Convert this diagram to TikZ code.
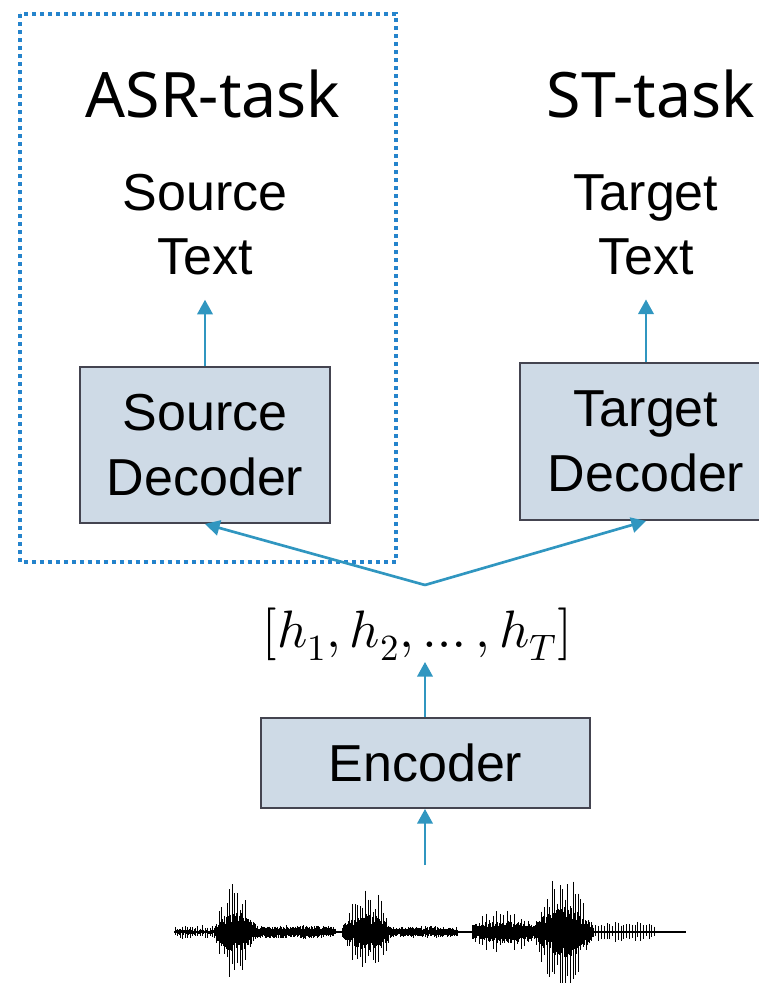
\documentclass[tikz,border=0pt]{standalone}
\usepackage{fontspec}
\usepackage{unicode-math}
\setmainfont{Liberation Sans}
\setmathfont{Latin Modern Math}
\newfontfamily\taskfont{Noto Sans}
\usetikzlibrary{arrows.meta, positioning}

\definecolor{boxfill}{RGB}{206, 218, 230}
\definecolor{boxline}{RGB}{68, 68, 80}
\definecolor{flowline}{RGB}{48, 150, 192}
\definecolor{groupline}{RGB}{37, 132, 204}

\tikzset{
    block/.style={draw=boxline, line width=1.4pt, fill=boxfill, align=center,
        inner sep=0pt, font=\fontsize{39}{49}\selectfont},
    textlbl/.style={align=center, inner sep=18pt, font=\fontsize{39}{48}\selectfont},
    tasklbl/.style={inner sep=0pt, font=\taskfont\fontsize{47}{50}\selectfont},
    flow/.style={draw=flowline, line width=2pt, -{Triangle[width=11.5pt, length=11pt]}},
    wave/.style={line width=0.7pt, black}
}

% one stretch of the speech signal: from, to, amplitude, spacing, envelope floor
\newcommand{\wavechunk}[5]{%
    \pgfmathtruncatemacro{\wn}{(#2-#1)/#4}
    \foreach \wi in {0,...,\wn}{
        \pgfmathsetmacro{\wx}{#1+\wi*#4}
        \pgfmathsetmacro{\wenv}{#5+(1-#5)*sin(180*(\wi/\wn))}
        \pgfmathsetmacro{\wup}{#3*\wenv*(0.4+0.6*rnd)}
        \pgfmathsetmacro{\wdn}{#3*\wenv*(0.4+0.6*rnd)}
        \draw[wave] (\wx,932-\wup) -- (\wx,932+\wdn);
    }}

\begin{document}
\begin{tikzpicture}[x=0.75pt, y=-0.75pt]
    \useasboundingbox (0,0) rectangle (759,983);

    % ASR branch is grouped in a dotted frame
    \draw[groupline, line width=2.8pt, dash pattern=on 2.8pt off 3.2pt] (20,14) rectangle (396,562);

    \node[tasklbl, anchor=base] (asr) at (213,117) {ASR-task};
    \node[tasklbl, anchor=base] (st) at (651,117) {ST-task};

    \node[textlbl] (srctxt) at (205,225) {Source\\Text};
    \node[textlbl] (tgttxt) at (646,225) {Target\\Text};

    \node[block, minimum width=187.5pt, minimum height=117pt] (srcdec) at (205,445) {Source\\Decoder};
    \node[block, minimum width=189pt, minimum height=117.75pt] (tgtdec) at (646,441.5) {Target\\Decoder};

    \node[inner sep=1pt, font=\fontsize{39.5}{42}\selectfont] (hvec) at (417,634) {$[h_1, h_2, \ldots, h_T]$};
    \node[block, minimum width=246.75pt, minimum height=67.5pt] (enc) at (425.5,763) {Encoder};

    \coordinate (split) at (425,585);
    \coordinate (wavetop) at (425,865);

    \draw[flow] (srcdec) -- (srctxt);
    \draw[flow] (tgtdec) -- (tgttxt);
    \draw[flow] (split) -- (srcdec.south);
    \draw[flow] (split) -- (tgtdec.south);
    \draw[flow] (enc.north -| split) -- (hvec.south -| split);
    \draw[flow] (wavetop) -- (enc.south -| wavetop);

    % speech waveform
    \pgfmathsetseed{7}
    \draw[wave, line width=1.1pt] (174,932) -- (686,932);
    \wavechunk{175}{214}{8}{2.5}{0.7}
    \wavechunk{175}{214}{3}{0.8}{0.8}
    \wavechunk{214}{258}{52}{2.6}{0.1}
    \wavechunk{214}{258}{20}{0.6}{0.3}
    \wavechunk{258}{335}{7}{0.7}{0.8}
    \wavechunk{342}{392}{50}{2.6}{0.1}
    \wavechunk{342}{392}{19}{0.6}{0.3}
    \wavechunk{392}{457}{6}{1}{0.8}
    \wavechunk{472}{534}{12}{0.7}{0.6}
    \wavechunk{472}{534}{22}{3.5}{0.5}
    \wavechunk{534}{593}{66}{2.6}{0.1}
    \wavechunk{534}{593}{26}{0.6}{0.3}
    \wavechunk{593}{656}{11}{2.8}{0.7}
\end{tikzpicture}
\end{document}
